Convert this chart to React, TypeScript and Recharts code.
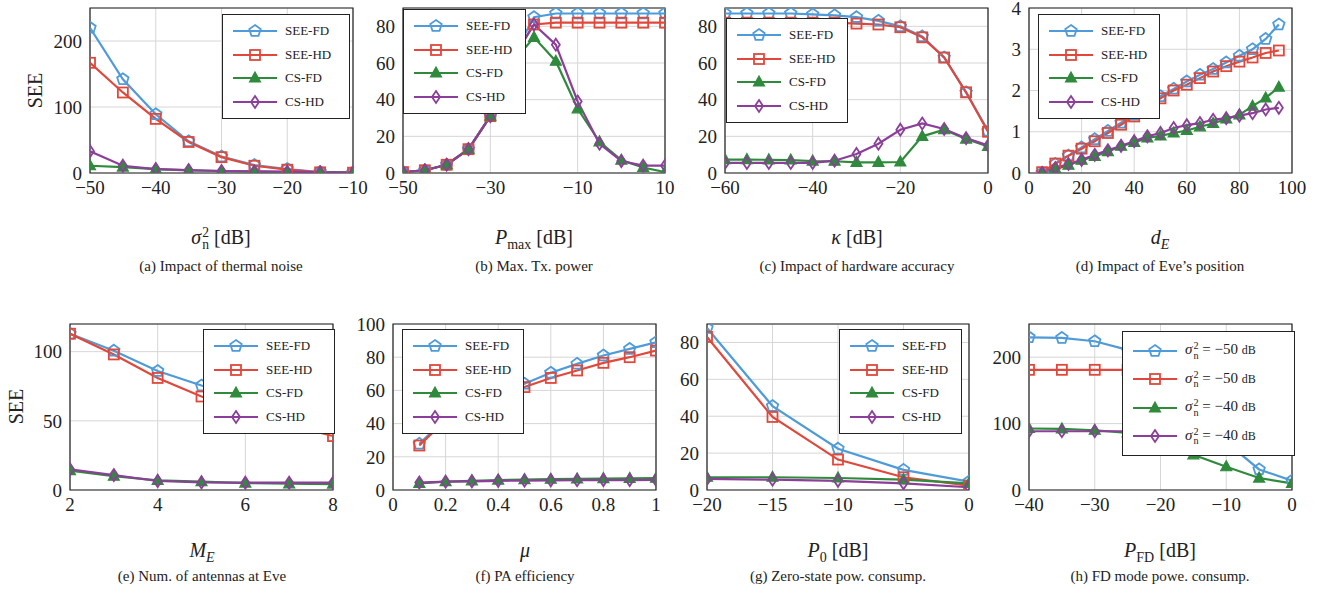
import React from "react";
import {
  LineChart,
  Line,
  XAxis,
  YAxis,
  CartesianGrid,
  ReferenceArea,
} from "recharts";

// (a) thermal noise
const aX = [-50, -45, -40, -35, -30, -25, -20, -15, -10];
const aSeeFd = [220, 142, 89, 48, 25, 12, 6, 1.5, 1];
const aSeeHd = [167, 122, 82, 47, 24, 11, 5, 1, 0.5];
const aCsFd = [11, 9, 6, 4, 3, 2, 1.5, 1, 0.5];
const aCsHd = [33, 11, 6, 4.5, 3, 2.5, 2, 1, 0.5];

// (b) max tx power
const bX = [-50, -45, -40, -35, -30, -25, -20, -15, -10, -5, 0, 5, 10];
const bSeeFd = [0.5, 1.5, 4.5, 13, 31, 63, 85, 87, 87, 87, 87, 87, 87];
const bSeeHd = [0.5, 1.5, 4.5, 13, 31, 62, 81, 82, 82, 82, 82, 82, 82];
const bCsFd = [0.5, 1.5, 4.5, 13, 31, 60, 74, 61, 35, 17, 7, 3, 0.5];
const bCsHd = [0.5, 1.5, 4.5, 13, 31, 62, 81, 70, 39, 16, 6.5, 4, 4];

// (c) hardware accuracy
const cX = [-60, -55, -50, -45, -40, -35, -30, -25, -20, -15, -10, -5, 0];
const cSeeFd = [87, 87, 87, 87, 86.5, 86, 85, 83, 80, 74.5, 63, 44, 23];
const cSeeHd = [82, 82, 82, 82, 82, 82, 81.5, 81, 79.5, 74, 63, 44, 22.5];
const cCsFd = [7.3, 7.3, 7.2, 7.1, 6.5, 6.4, 5.8, 5.8, 6, 20, 23.6, 18.5, 14.5];
const cCsHd = [5.5, 5.5, 5.5, 5.5, 5.5, 6.7, 10.4, 16, 23.6, 27, 24, 19, 15];

// (d) Eve's position
const dX = [5, 10, 15, 20, 25, 30, 35, 40, 45, 50, 55, 60, 65, 70, 75, 80, 85, 90, 95];
const dSeeFd = [0, 0.22, 0.42, 0.62, 0.82, 1.02, 1.22, 1.41, 1.62, 1.86, 2.04, 2.22, 2.38, 2.52, 2.68, 2.84, 3.0, 3.25, 3.6];
const dSeeHd = [0.02, 0.23, 0.42, 0.59, 0.77, 0.97, 1.17, 1.37, 1.6, 1.81, 2.0, 2.14, 2.3, 2.46, 2.59, 2.7, 2.8, 2.91, 2.97];
const dCsFd = [0, 0.1, 0.19, 0.31, 0.4, 0.52, 0.65, 0.74, 0.85, 0.9, 0.97, 1.03, 1.12, 1.2, 1.31, 1.41, 1.62, 1.82, 2.08];
const dCsHd = [0, 0.12, 0.22, 0.32, 0.44, 0.55, 0.66, 0.77, 0.89, 0.97, 1.09, 1.16, 1.21, 1.29, 1.33, 1.39, 1.45, 1.54, 1.58];

// (e) antennas at Eve
const eX = [2, 3, 4, 5, 6, 7, 8];
const eSeeFd = [113, 100.7, 86, 75.5, 66, 57, 50];
const eSeeHd = [113, 98, 81, 67.6, 57, 47, 39];
const eCsFd = [14, 10, 7, 6, 5, 4.5, 4.3];
const eCsHd = [15, 10.8, 6.5, 5.5, 5.3, 5.3, 5.3];

// (f) PA efficiency
const fX = [0.1, 0.2, 0.3, 0.4, 0.5, 0.6, 0.7, 0.8, 0.9, 1.0];
const fSeeFd = [27.8, 43, 51, 58, 64, 70.6, 76, 81, 85, 89];
const fSeeHd = [26.8, 42, 50, 57, 62, 67.5, 72, 76.6, 80, 84];
const fCsFd = [4, 5, 5.5, 6, 6.3, 6.5, 6.7, 6.9, 7, 7.1];
const fCsHd = [4.5, 5, 5.2, 5.5, 5.7, 5.8, 5.9, 6, 6, 6.1];

// (g) zero-state power
const gX = [-20, -15, -10, -5, 0];
const gSeeFd = [87.8, 45.5, 22.4, 10.9, 4.5];
const gSeeHd = [83, 39.6, 16.5, 6.9, 2.4];
const gCsFd = [6.9, 6.9, 6.5, 5.6, 3.6];
const gCsHd = [6, 5.6, 5, 3.6, 1.5];

// (h) FD mode power
const hX = [-40, -35, -30, -25, -20, -15, -10, -5, 0];
const hFd50 = [230, 229, 224, 211, 185, 135, 72, 31, 14];
const hHd50 = [181, 181, 181, 181, 181, 181, 181, 181, 181];
const hFd40 = [92.6, 92, 90, 86, 76, 53, 35, 18, 10];
const hHd40 = [88.5, 88.5, 88.5, 88.5, 88.5, 88.5, 88.5, 88.5, 88.5];

const seriesNames = ["SEE-FD", "SEE-HD", "CS-FD", "CS-HD"];
const COLORS = ["#4f9bd9", "#e0483b", "#2f8a3c", "#8b3f99"];
const SHAPES = ["pentagon", "square", "triangle", "diamond"];
const SERIF = "Liberation Serif, DejaVu Serif, serif";

function Marker({ shape, color, cx, cy }: any) {
  if (shape === "pentagon") {
    const r = 6;
    const pts = [0, 1, 2, 3, 4]
      .map((k) => {
        const a = ((-90 + 72 * k) * Math.PI) / 180;
        return `${cx + r * Math.cos(a)},${cy + r * Math.sin(a)}`;
      })
      .join(" ");
    return <polygon points={pts} fill="none" stroke={color} strokeWidth={1.8} />;
  }
  if (shape === "square") {
    return <rect x={cx - 5} y={cy - 5} width={10} height={10} fill="none" stroke={color} strokeWidth={1.8} />;
  }
  if (shape === "triangle") {
    return (
      <polygon
        points={`${cx},${cy - 6} ${cx + 5.5},${cy + 4} ${cx - 5.5},${cy + 4}`}
        fill={color}
        stroke={color}
        strokeWidth={1.2}
      />
    );
  }
  return (
    <polygon
      points={`${cx},${cy - 6} ${cx + 4},${cy} ${cx},${cy + 6} ${cx - 4},${cy}`}
      fill="none"
      stroke={color}
      strokeWidth={1.8}
    />
  );
}

const makeDot = (i: number) => (props: any) => {
  const { cx, cy, index } = props;
  if (cx == null || cy == null) return <g key={`d${i}-${index}`} />;
  return (
    <g key={`d${i}-${index}`}>
      <Marker shape={SHAPES[i]} color={COLORS[i]} cx={cx} cy={cy} />
    </g>
  );
};

const fmt = (v: number) => (v < 0 ? `\u2212${Math.abs(v)}` : `${v}`);

function SubSup({ base, sub, sup, italic = true }: any) {
  return (
    <span style={{ whiteSpace: "nowrap" }}>
      {italic ? <i>{base}</i> : base}
      <span
        style={{
          display: "inline-flex",
          flexDirection: "column",
          verticalAlign: "middle",
          fontSize: "0.68em",
          lineHeight: 0.95,
          marginLeft: 1,
        }}
      >
        <span>{sup}</span>
        <span>{sub}</span>
      </span>
    </span>
  );
}

function Legend({ box, labels, rowH, fontSize }: any) {
  return (
    <div
      style={{
        position: "absolute",
        left: box[0],
        top: box[1],
        width: box[2],
        height: box[3],
        border: "1px solid #222",
        background: "white",
        boxSizing: "border-box",
        display: "flex",
        flexDirection: "column",
        justifyContent: "center",
      }}
    >
      {labels.map((lab: any, i: number) => (
        <div key={i} style={{ display: "flex", alignItems: "center", height: rowH }}>
          <svg width={48} height={16} style={{ marginLeft: 8, marginRight: 6, flex: "none" }}>
            <line x1={2} y1={8} x2={46} y2={8} stroke={COLORS[i]} strokeWidth={2.2} />
            <Marker shape={SHAPES[i]} color={COLORS[i]} cx={24} cy={8} />
          </svg>
          <span style={{ fontSize, color: "#222", fontFamily: SERIF, whiteSpace: "nowrap" }}>{lab}</span>
        </div>
      ))}
    </div>
  );
}

function Panel({ x, y, w, h, xs, series, xDomain, xTicks, yDomain, yTicks, legend, yLabel }: any) {
  const rows = xs.map((xv: number, i: number) => ({
    x: xv,
    s0: series[0][i],
    s1: series[1][i],
    s2: series[2][i],
    s3: series[3][i],
  }));
  const tickStyle = { fill: "#222", fontSize: 19, fontFamily: SERIF };
  return (
    <>
      <div style={{ position: "absolute", left: x - 50, top: y - 10 }}>
        <LineChart
          width={w + 70}
          height={h + 40}
          data={rows}
          margin={{ top: 10, right: 20, left: 0, bottom: 0 }}
          style={{ fontFamily: SERIF }}
        >
          <CartesianGrid stroke="#d6d6d6" strokeWidth={1} />
          <XAxis
            type="number"
            dataKey="x"
            domain={xDomain}
            ticks={xTicks}
            interval={0}
            allowDataOverflow
            tickFormatter={fmt}
            tick={tickStyle}
            tickLine={false}
            axisLine={false}
            height={30}
          />
          <YAxis
            type="number"
            domain={yDomain}
            ticks={yTicks}
            interval={0}
            allowDataOverflow
            tickFormatter={fmt}
            tick={tickStyle}
            tickLine={false}
            axisLine={false}
            width={50}
          />
          <ReferenceArea
            x1={xDomain[0]}
            x2={xDomain[1]}
            y1={yDomain[0]}
            y2={yDomain[1]}
            fill="none"
            fillOpacity={0}
            stroke="#222"
            strokeWidth={1.2}
          />
          {[0, 1, 2, 3].map((i) => (
            <Line
              key={i}
              dataKey={`s${i}`}
              stroke={COLORS[i]}
              strokeWidth={2.2}
              dot={makeDot(i)}
              activeDot={false}
              isAnimationActive={false}
              type="linear"
            />
          ))}
        </LineChart>
      </div>
      {yLabel && (
        <div
          style={{
            position: "absolute",
            left: yLabel[0] - 30,
            top: y + h / 2 - 12,
            width: 60,
            textAlign: "center",
            fontSize: 20,
            fontFamily: SERIF,
            transform: "rotate(-90deg)",
            color: "#222",
          }}
        >
          SEE
        </div>
      )}
      <Legend {...legend} />
    </>
  );
}

function Caption({ cx, y, children, size }: any) {
  return (
    <div
      style={{
        position: "absolute",
        left: cx - 150,
        top: y,
        width: 300,
        textAlign: "center",
        fontSize: size,
        fontFamily: SERIF,
        color: "#222",
        whiteSpace: "nowrap",
      }}
    >
      {children}
    </div>
  );
}

const std = { rowH: 23.7, fontSize: 13 };
const sigma = (v: string) => (
  <span>
    <SubSup base="σ" sub="n" sup="2" />
    {" = \u2212" + v + " "}
    <span style={{ fontSize: 12 }}>dB</span>
  </span>
);

export default function App() {
  const r1 = 8;
  const r2 = 324;
  return (
    <div
      style={{
        position: "absolute",
        left: 0,
        top: 0,
        width: 1320,
        height: 597,
        background: "white",
        fontFamily: SERIF,
        overflow: "hidden",
      }}
    >
      <Panel
        x={90} y={r1} w={263} h={165}
        xs={aX} series={[aSeeFd, aSeeHd, aCsFd, aCsHd]}
        xDomain={[-50, -10]} xTicks={[-50, -40, -30, -20, -10]}
        yDomain={[0, 250]} yTicks={[0, 100, 200]}
        yLabel={[35]}
        legend={{ box: [222, 14, 128, 105], labels: seriesNames, ...std }}
      />
      <Panel
        x={403} y={r1} w={262} h={165}
        xs={bX} series={[bSeeFd, bSeeHd, bCsFd, bCsHd]}
        xDomain={[-50, 10]} xTicks={[-50, -30, -10, 10]}
        yDomain={[0, 90]} yTicks={[0, 20, 40, 60, 80]}
        legend={{ box: [403, 9, 123, 105], labels: seriesNames, ...std }}
      />
      <Panel
        x={725} y={r1} w={263} h={165}
        xs={cX} series={[cSeeFd, cSeeHd, cCsFd, cCsHd]}
        xDomain={[-60, 0]} xTicks={[-60, -40, -20, 0]}
        yDomain={[0, 90]} yTicks={[0, 20, 40, 60, 80]}
        legend={{ box: [726, 18, 122, 105], labels: seriesNames, ...std }}
      />
      <Panel
        x={1029} y={r1} w={263} h={165}
        xs={dX} series={[dSeeFd, dSeeHd, dCsFd, dCsHd]}
        xDomain={[0, 100]} xTicks={[0, 20, 40, 60, 80, 100]}
        yDomain={[0, 4]} yTicks={[0, 1, 2, 3, 4]}
        legend={{ box: [1038, 14, 122, 105], labels: seriesNames, ...std }}
      />
      <Panel
        x={70} y={r2} w={263} h={166}
        xs={eX} series={[eSeeFd, eSeeHd, eCsFd, eCsHd]}
        xDomain={[2, 8]} xTicks={[2, 4, 6, 8]}
        yDomain={[0, 120]} yTicks={[0, 50, 100]}
        yLabel={[16]}
        legend={{ box: [203, 329, 132, 105], labels: seriesNames, ...std }}
      />
      <Panel
        x={393} y={r2} w={263} h={166}
        xs={fX} series={[fSeeFd, fSeeHd, fCsFd, fCsHd]}
        xDomain={[0, 1]} xTicks={[0, 0.2, 0.4, 0.6, 0.8, 1]}
        yDomain={[0, 100]} yTicks={[0, 20, 40, 60, 80, 100]}
        legend={{ box: [402, 329, 122, 105], labels: seriesNames, ...std }}
      />
      <Panel
        x={707} y={r2} w={262} h={166}
        xs={gX} series={[gSeeFd, gSeeHd, gCsFd, gCsHd]}
        xDomain={[-20, 0]} xTicks={[-20, -15, -10, -5, 0]}
        yDomain={[0, 90]} yTicks={[0, 20, 40, 60, 80]}
        legend={{ box: [839, 329, 123, 105], labels: seriesNames, ...std }}
      />
      <Panel
        x={1029} y={r2} w={263} h={166}
        xs={hX} series={[hFd50, hHd50, hFd40, hHd40]}
        xDomain={[-40, 0]} xTicks={[-40, -30, -20, -10, 0]}
        yDomain={[0, 250]} yTicks={[0, 100, 200]}
        legend={{
          box: [1122, 331, 173, 125],
          labels: [sigma("50"), sigma("50"), sigma("40"), sigma("40")],
          rowH: 28.5,
          fontSize: 15,
        }}
      />

      {/* axis labels, row 1 */}
      <Caption cx={221} y={226} size={20}>
        <SubSup base="σ" sub="n" sup="2" /> [dB]
      </Caption>
      <Caption cx={534} y={226} size={20}>
        <i>P</i>
        <sub style={{ fontSize: 14 }}>max</sub> [dB]
      </Caption>
      <Caption cx={857} y={226} size={20}>
        <i>κ</i> [dB]
      </Caption>
      <Caption cx={1160} y={226} size={20}>
        <i>d</i>
        <sub style={{ fontSize: 14 }}>
          <i>E</i>
        </sub>
      </Caption>
      {/* captions, row 1 */}
      <Caption cx={221} y={258} size={15}>(a) Impact of thermal noise</Caption>
      <Caption cx={534} y={258} size={15}>(b) Max. Tx. power</Caption>
      <Caption cx={857} y={258} size={15}>(c) Impact of hardware accuracy</Caption>
      <Caption cx={1160} y={258} size={15}>(d) Impact of Eve’s position</Caption>

      {/* axis labels, row 2 */}
      <Caption cx={202} y={539} size={20}>
        <i>M</i>
        <sub style={{ fontSize: 14 }}>
          <i>E</i>
        </sub>
      </Caption>
      <Caption cx={525} y={539} size={20}>
        <i>μ</i>
      </Caption>
      <Caption cx={838} y={539} size={20}>
        <i>P</i>
        <sub style={{ fontSize: 14 }}>0</sub> [dB]
      </Caption>
      <Caption cx={1160} y={539} size={20}>
        <i>P</i>
        <sub style={{ fontSize: 14 }}>FD</sub> [dB]
      </Caption>
      {/* captions, row 2 */}
      <Caption cx={202} y={568} size={15}>(e) Num. of antennas at Eve</Caption>
      <Caption cx={525} y={568} size={15}>(f) PA efficiency</Caption>
      <Caption cx={838} y={568} size={15}>(g) Zero-state pow. consump.</Caption>
      <Caption cx={1160} y={568} size={15}>(h) FD mode powe. consump.</Caption>
    </div>
  );
}
